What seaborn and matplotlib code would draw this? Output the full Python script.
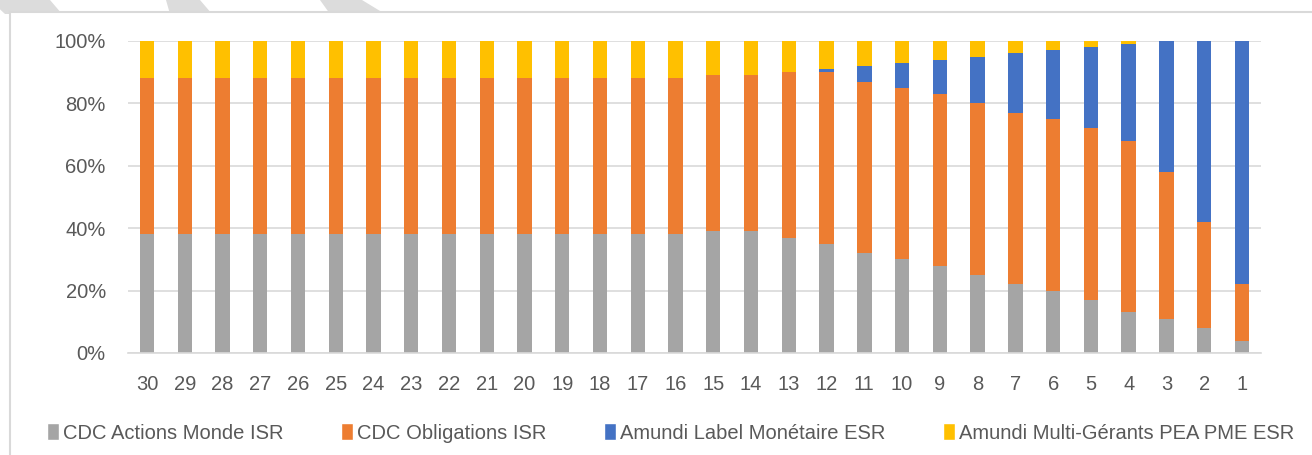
import numpy as np
import pandas as pd
import matplotlib
matplotlib.use("Agg")
import matplotlib.pyplot as plt
import seaborn as sns
from matplotlib.patches import Rectangle, Patch, Polygon

# donnees (en %), horizon 30 -> 1
horizons = [str(h) for h in range(30, 0, -1)]
actions_monde = [38]*15 + [39, 39, 37, 35, 32, 30, 28, 25, 22, 20, 17, 13, 11, 8, 4]
obligations = [50]*15 + [50, 50, 53, 55, 55, 55, 55, 55, 55, 55, 55, 55, 47, 34, 18]
monetaire = [0]*15 + [0, 0, 0, 1, 5, 8, 11, 15, 19, 22, 26, 31, 42, 58, 78]
pea_pme = [12]*15 + [11, 11, 10, 9, 8, 7, 6, 5, 4, 3, 2, 1, 0, 0, 0]

series = ["CDC Actions Monde ISR", "CDC Obligations ISR",
          "Amundi Label Monétaire ESR", "Amundi Multi-Gérants PEA PME ESR"]
colors = ["#A5A5A5", "#ED7D31", "#4472C4", "#FFC000"]

df = pd.DataFrame({"horizon": horizons, series[0]: actions_monde, series[1]: obligations,
                   series[2]: monetaire, series[3]: pea_pme})
cum = df[series].cumsum(axis=1)

sns.set_style("white")
plt.rcParams['font.family'] = ['Liberation Sans', 'DejaVu Sans']

W, H = 1312, 455
fig = plt.figure(figsize=(W/100, H/100), dpi=100)

# bandes grises en haut (filigrane)
def px(x, y):
    return (x / W, 1 - y / H)
for pts in [[(-10, 0), (50, 0), (62, 14), (5, 14)],
            [(166, 0), (200, 0), (212, 14), (170, 14)],
            [(320, 0), (362, 0), (385, 14), (330, 14)]]:
    fig.patches.append(Polygon([px(*p) for p in pts], closed=True, transform=fig.transFigure,
                               facecolor="#DCDCDC", edgecolor="none", zorder=-2))
# cadre du graphique
fig.patches.append(Rectangle(px(10, H + 20), 1.2, (H - 12 + 20) / H, transform=fig.transFigure,
                             facecolor="white", edgecolor="#D9D9D9", linewidth=1.5, zorder=-1))

ax = fig.add_axes([0.0976, 0.2242, 0.8634, 0.6857])
ax.patch.set_alpha(0)
ax.set_zorder(2)

# barres empilees : on trace les cumuls du plus haut au plus bas
for s, c in reversed(list(zip(series, colors))):
    sns.barplot(x=df["horizon"], y=cum[s], color=c, width=0.38, ax=ax,
                order=horizons, saturation=1, edgecolor="none")

ax.set_ylim(0, 100)
ax.set_xlim(-0.5, 29.5)
ax.set_yticks(range(0, 101, 20))
ax.set_yticklabels([f"{v}%" for v in range(0, 101, 20)])
ax.set_xlabel("")
ax.set_ylabel("")
ax.yaxis.grid(True, color="#D9D9D9", linewidth=1.2)
ax.set_axisbelow(True)
for sp in ["top", "right", "left"]:
    ax.spines[sp].set_visible(False)
ax.spines["bottom"].set_color("#D9D9D9")
ax.spines["bottom"].set_linewidth(1.2)
ax.tick_params(axis="both", length=0, labelsize=14.5, colors="#595959")
ax.tick_params(axis="y", pad=16)
ax.tick_params(axis="x", pad=16)

handles = [Patch(facecolor=c, label=s) for s, c in zip(series, colors)]
leg = fig.legend(handles=handles, loc="center", bbox_to_anchor=(0.511, 1 - 433/455), ncol=4,
                 frameon=False, fontsize=14.5, handlelength=0.6, handleheight=0.9,
                 handletextpad=0.2, columnspacing=2.85, labelcolor="#595959")
leg.set_zorder(3)

fig.savefig("out.png", dpi=100)
